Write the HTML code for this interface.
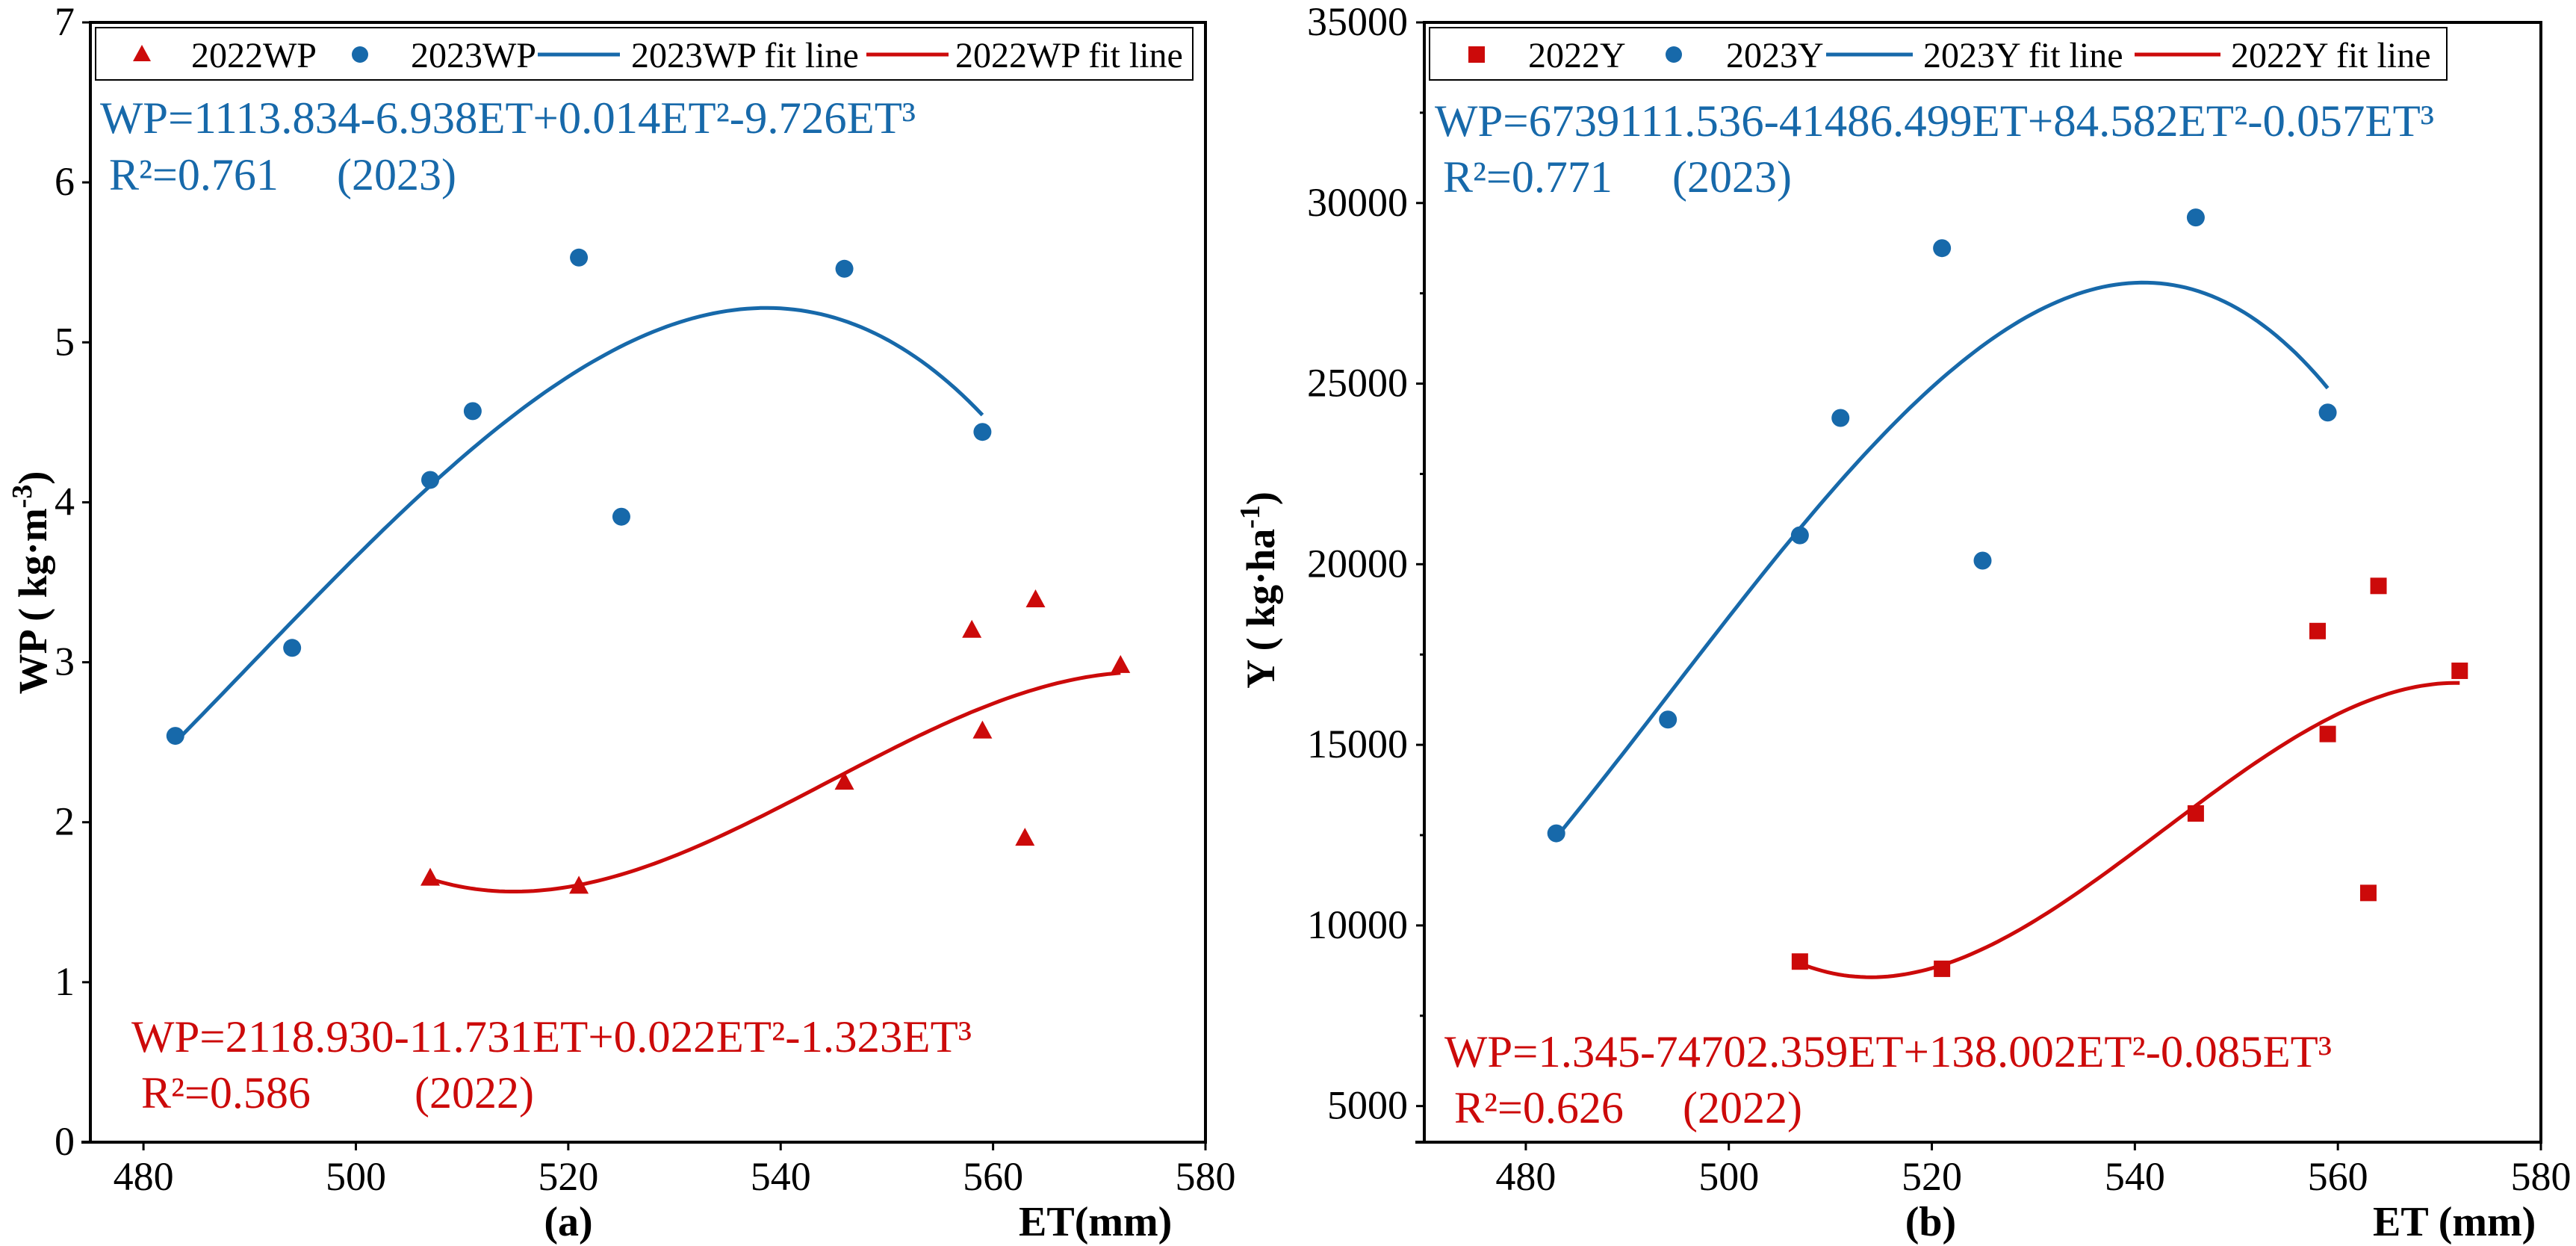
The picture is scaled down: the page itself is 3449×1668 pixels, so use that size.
<!DOCTYPE html>
<html><head><meta charset="utf-8"><style>
html,body{margin:0;padding:0;background:#fff;}
svg{display:block;}
svg text{font-family:"Liberation Serif","Times New Roman","DejaVu Serif",serif;}
</style></head><body>
<svg id="chart" width="3449" height="1668" viewBox="0 0 3449 1668" xmlns="http://www.w3.org/2000/svg" font-family="Liberation Serif, DejaVu Serif, serif"></svg>
<script>
// ---- data (panel a: WP) ----
const etWP2023 = [483, 494, 507, 511, 521, 525, 546, 559];
const wp2023 = [2.54, 3.09, 4.14, 4.57, 5.53, 3.91, 5.46, 4.44];
const etWP2022 = [507, 521, 546, 558, 559, 563, 564, 572];
const wp2022 = [1.65, 1.60, 2.25, 3.20, 2.57, 1.90, 3.39, 2.98];
const xTicks = [480, 500, 520, 540, 560, 580];
const yTicksA = [0, 1, 2, 3, 4, 5, 6, 7];
// ---- data (panel b: Y) ----
const etY2023 = [483, 494, 507, 511, 521, 525, 546, 559];
const y2023 = [12550, 15700, 20800, 24050, 28750, 20100, 29600, 24200];
const etY2022 = [507, 521, 546, 558, 559, 563, 564, 572];
const y2022 = [9000, 8800, 13100, 18150, 15300, 10900, 19400, 17050];
const yTicksB = [5000, 10000, 15000, 20000, 25000, 30000, 35000];

const NS = "http://www.w3.org/2000/svg";
const svg = document.getElementById('chart');
const BLUE = "#1769aa", RED = "#cc0a0a";
const FONT = "Liberation Serif, DejaVu Serif, serif";
function mk(tag, attrs, parent, text){
  const e = document.createElementNS(NS, tag);
  for (const k in attrs) e.setAttribute(k, attrs[k]);
  if (tag === 'text') e.setAttribute('font-family', FONT);
  if (text !== undefined) e.textContent = text;
  (parent || svg).appendChild(e);
  return e;
}
function cubicFit(xs, ys){
  const xm = xs.reduce((a,b)=>a+b,0)/xs.length;
  const n = 4, A = [], B = [];
  for (let i=0;i<n;i++){ A.push(new Array(n).fill(0)); B.push(0); }
  xs.forEach((x,k)=>{ const t=x-xm; const p=[1,t,t*t,t*t*t];
    for(let i=0;i<n;i++){ B[i]+=p[i]*ys[k]; for(let j=0;j<n;j++) A[i][j]+=p[i]*p[j]; } });
  for(let i=0;i<n;i++){ let m=i; for(let r=i+1;r<n;r++) if(Math.abs(A[r][i])>Math.abs(A[m][i])) m=r;
    [A[i],A[m]]=[A[m],A[i]]; [B[i],B[m]]=[B[m],B[i]];
    for(let r=0;r<n;r++){ if(r===i) continue; const f=A[r][i]/A[i][i];
      for(let c=i;c<n;c++) A[r][c]-=f*A[i][c]; B[r]-=f*B[i]; } }
  const c = B.map((b,i)=>b/A[i][i]);
  return x=>{ const t=x-xm; return c[0]+c[1]*t+c[2]*t*t+c[3]*t*t*t; };
}

function panel(cfg){
  const g = mk('g', {});
  
  
  const L=cfg.left, R=cfg.right, T=30, Bt=1529;
  const sx = v => L + (v - cfg.xmin)/(cfg.xmax - cfg.xmin)*(R-L);
  const sy = v => Bt - (v - cfg.ymin)/(cfg.ymax - cfg.ymin)*(Bt-T);
  const fr = mk('rect', {x:L, y:T, width:R-L, height:Bt-T, fill:'none', stroke:'#000', 'stroke-width':4}, g);
   
  mk('line',{x1:L-12,y1:Bt,x2:L,y2:Bt,stroke:'#000','stroke-width':4},g);
  xTicks.forEach(v=>{
    const x=sx(v);
    const t=mk('line',{x1:x,y1:Bt,x2:x,y2:Bt+11,stroke:'#000','stroke-width':3},g);
     
    const lb=mk('text',{x:x,y:1593,'font-size':54,'text-anchor':'middle'},g,String(v));
     
  });
  cfg.yTicks.forEach((v,i)=>{
    const y=sy(v);
    const t=mk('line',{x1:L-11,y1:y,x2:L,y2:y,stroke:'#000','stroke-width':3},g);
     
    const lb=mk('text',{x:cfg.ylabX,y:y+17,'font-size':54,'text-anchor':'end'},g,String(v));
     
    if (cfg.minor && i<cfg.yTicks.length-1){
      const ym=sy((v+cfg.yTicks[i+1])/2);
      mk('line',{x1:L-6,y1:ym,x2:L,y2:ym,stroke:'#000','stroke-width':3},g);
    }
  });
  const yt=mk('text',{x:0,y:0,'font-size':54,'font-weight':'bold','text-anchor':'middle',
    transform:`translate(${cfg.ytX},${cfg.ytY}) rotate(-90)`},g);
   
  yt.innerHTML = cfg.ytitle + ' ( kg·'+cfg.unit+'<tspan dy="-20" font-size="38">'+cfg.sup+'</tspan><tspan dy="20">)</tspan>';
  const pl=mk('text',{x:cfg.plX,y:1654,'font-size':56,'font-weight':'bold','text-anchor':'middle'},g,cfg.panelLabel);
   
  const xt=mk('text',{x:cfg.xtX,y:1654,'font-size':56,'font-weight':'bold'},g,cfg.xtitle);
   
  function fitLine(xs,ys,color,nm){
    const f=cubicFit(xs,ys); const x0=Math.min(...xs), x1=Math.max(...xs);
    let d=''; for(let i=0;i<=120;i++){ const x=x0+(x1-x0)*i/120; d+=(i?'L':'M')+sx(x).toFixed(1)+','+sy(f(x)).toFixed(1); }
    const p=mk('path',{d:d,fill:'none',stroke:color,'stroke-width':5},g);
     
  }
  fitLine(cfg.x23,cfg.y23,BLUE,'fit-line-2023');
  fitLine(cfg.x22,cfg.y22,RED,'fit-line-2022');
  cfg.x23.forEach((v,i)=>{
    const c=mk('circle',{cx:sx(v),cy:sy(cfg.y23[i]),r:12,fill:BLUE},g);
     
  });
  cfg.x22.forEach((v,i)=>{
    const x=sx(v), y=sy(cfg.y22[i]); let m;
    if (cfg.marker22==='tri') m=mk('polygon',{points:`${x},${y-14} ${x-13},${y+10} ${x+13},${y+10}`,fill:RED},g);
    else m=mk('rect',{x:x-11,y:y-11,width:22,height:22,fill:RED},g);
     
  });
  const lg=mk('g',{},g);
   
  mk('rect',{x:cfg.lg.x,y:37,width:cfg.lg.w,height:70,fill:'#fff',stroke:'#000','stroke-width':2},lg);
  const ly=73, lb=90;
  if (cfg.marker22==='tri') mk('polygon',{points:`${cfg.lg.m1},${ly-13} ${cfg.lg.m1-12},${ly+9} ${cfg.lg.m1+12},${ly+9}`,fill:RED},lg);
  else mk('rect',{x:cfg.lg.m1-11,y:ly-11,width:22,height:22,fill:RED},lg);
  mk('circle',{cx:cfg.lg.m2,cy:ly,r:11,fill:BLUE},lg);
  mk('line',{x1:cfg.lg.l1[0],y1:ly,x2:cfg.lg.l1[1],y2:ly,stroke:BLUE,'stroke-width':5},lg);
  mk('line',{x1:cfg.lg.l2[0],y1:ly,x2:cfg.lg.l2[1],y2:ly,stroke:RED,'stroke-width':5},lg);
  cfg.lg.t.forEach((tx,i)=>{
    const e=mk('text',{x:cfg.lg.tx[i],y:lb,'font-size':48},lg,tx);
     
  });
  cfg.eq.forEach(q=>{
    const e=mk('text',{x:q.x,y:q.y,'font-size':60,fill:q.c,textLength:q.w,lengthAdjust:'spacingAndGlyphs'},g,q.t);
     
    const r=mk('text',{x:q.rx,y:q.ry,'font-size':60,fill:q.c},g,q.r);
     
    const yr=mk('text',{x:q.yx,y:q.ry,'font-size':60,fill:q.c},g,q.yr);
     
  });
}

panel({name:'panel-a', left:121, right:1614, xmin:475, xmax:580, ymin:0, ymax:7,
  yTicks:yTicksA, ylabX:100, minor:false, ytitle:'WP', unit:'m', sup:'-3', ytX:62, ytY:780,
  panelLabel:'(a)', plX:761, xtitle:'ET(mm)', xtX:1364,
  x23:etWP2023, y23:wp2023, x22:etWP2022, y22:wp2022, marker22:'tri',
  lg:{x:128,w:1469,m1:190,m2:482,l1:[720,830],l2:[1160,1270],tx:[256,550,845,1279],
      t:['2022WP','2023WP','2023WP fit line','2022WP fit line']},
  eq:[{t:'WP=1113.834-6.938ET+0.014ET²-9.726ET³',x:134,y:178,w:1092,c:BLUE,r:'R²=0.761',rx:146,ry:254,yr:'(2023)',yx:451},
      {t:'WP=2118.930-11.731ET+0.022ET²-1.323ET³',x:176,y:1408,w:1125,c:RED,r:'R²=0.586',rx:189,ry:1483,yr:'(2022)',yx:555}]
});
panel({name:'panel-b', left:1907, right:3402, xmin:470, xmax:580, ymin:4000, ymax:35000,
  yTicks:yTicksB, ylabX:1885, minor:true, ytitle:'Y', unit:'ha', sup:'-1', ytX:1706, ytY:790,
  panelLabel:'(b)', plX:2585, xtitle:'ET (mm)', xtX:3177,
  x23:etY2023, y23:y2023, x22:etY2022, y22:y2022, marker22:'sq',
  lg:{x:1914,w:1362,m1:1977,m2:2241,l1:[2445,2561],l2:[2858,2973],tx:[2046,2311,2575,2987],
      t:['2022Y','2023Y','2023Y fit line','2022Y fit line']},
  eq:[{t:'WP=6739111.536-41486.499ET+84.582ET²-0.057ET³',x:1921,y:182,w:1338,c:BLUE,r:'R²=0.771',rx:1932,ry:257,yr:'(2023)',yx:2239},
      {t:'WP=1.345-74702.359ET+138.002ET²-0.085ET³',x:1934,y:1428,w:1188,c:RED,r:'R²=0.626',rx:1947,ry:1503,yr:'(2022)',yx:2253}]
});
</script>
</body></html>
